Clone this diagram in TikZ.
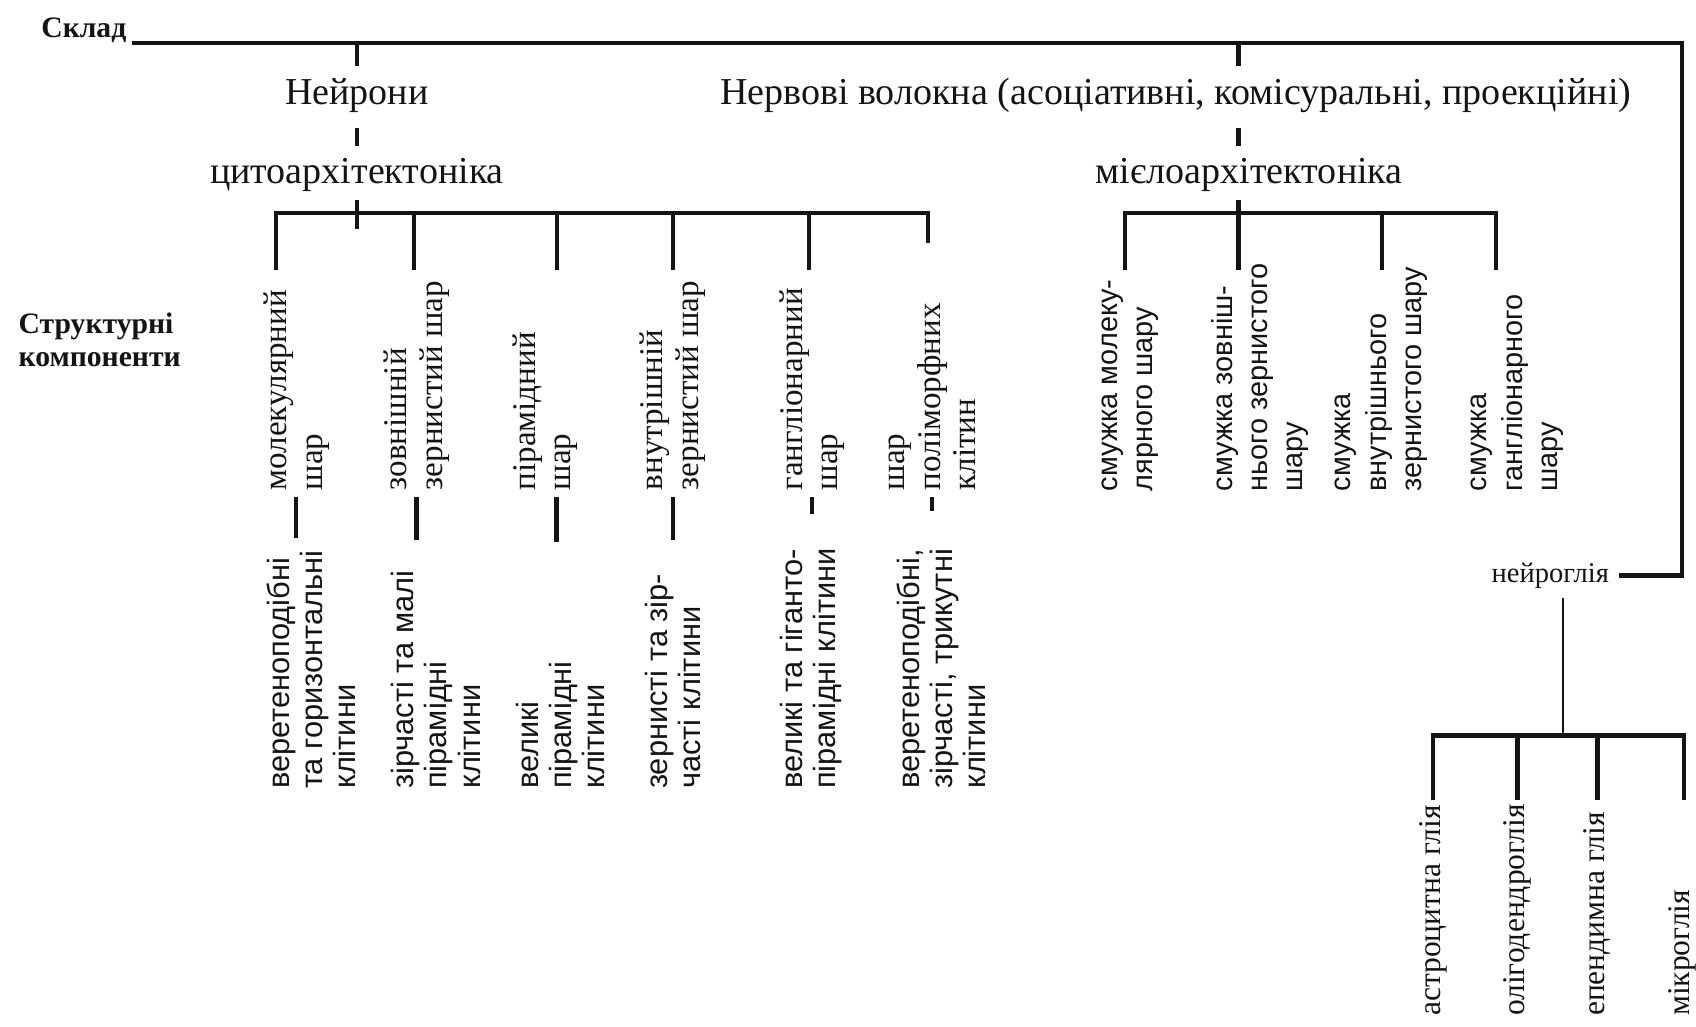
\documentclass[tikz,border=0pt]{standalone}
\usepackage{fontspec}
\setmainfont{Liberation Serif}
\setsansfont{Liberation Sans}
\usepackage{tikz}
\usetikzlibrary{positioning,calc}
\definecolor{Ink}{RGB}{20,20,20}
\tikzset{
  % Bold side caption
  caption/.style={font=\fontsize{7.8}{8.6}\selectfont\bfseries, text=Ink, inner sep=1pt},
  % Top level heading
  heading/.style={font=\fontsize{10}{12}\selectfont, text=Ink, inner sep=2pt},
  % Small heading (glia)
  sheading/.style={font=\fontsize{7.5}{9}\selectfont, text=Ink, inner sep=2.5pt},
  % Rotated layer label
  layer/.style={rotate=90, anchor=west, align=left, inner sep=0pt, text=Ink,
    font=\fontsize{8.7}{9.4}\selectfont},
  % Rotated cell label
  cell/.style={rotate=90, anchor=west, align=left, inner sep=0pt, text=Ink,
    font=\sffamily\fontsize{8.1}{8.7}\selectfont},
  % Rotated band label
  band/.style={rotate=90, anchor=west, align=left, inner sep=0pt, text=Ink,
    font=\sffamily\fontsize{7.6}{9.3}\selectfont},
  % Rotated glia label
  glia/.style={rotate=90, anchor=west, inner sep=0pt, text=Ink,
    font=\fontsize{8.3}{10}\selectfont},
  % Standard connector
  edge/.style={draw=Ink, line width=1.1pt},
  % Thin connector
  tedge/.style={draw=Ink, line width=0.7pt}
}

\begin{document}
\begin{tikzpicture}[x=0.01cm, y=-0.01cm]
  \useasboundingbox (0,0) rectangle (1568,949);

  % Captions
  \node[caption, anchor=west] (sklad) at (34,28) {Склад};
  \node[caption, anchor=west, align=left] (struct) at (13,314) {Структурні\\компоненти};

  % Top level
  \coordinate (topL) at (122,40);
  \coordinate (topR) at (1555,40);
  \coordinate (fx) at (1145,0);
  \coordinate (gx) at (1445,0);
  \node[heading] (neur)  at (330,88)   {Нейрони};
  \node[heading] (cyto)  at (330,162)  {цитоархітектоніка};
  \node[heading] (fib)   at (1087,88)  {Нервові волокна (асоціативні, комісуральні, проекційні)};
  \node[heading] (myelo) at (1155,162) {мієлоархітектоніка};
  \node[sheading, anchor=east] (nglia) at (1497,532) {нейроглія};

  \draw[edge] (topL) -- (topR) |- (nglia.east);
  \draw[edge, shorten >=1pt] (neur.north |- topL) -- (neur.north);
  \draw[edge, shorten <=2pt, shorten >=1pt] (neur.south) -- (cyto.north);
  \draw[edge] (cyto.south) -- ++(0,27);
  \draw[edge, shorten >=1pt] (fx |- topL) -- (fx |- neur.north);
  \draw[edge, shorten <=2pt, shorten >=1pt] (fx |- neur.south) -- (fx |- cyto.north);
  \draw[edge] (fx |- cyto.south) -- ++(0,27);

  % Cytoarchitectonics bracket
  \draw[edge] (255,250) -- (255,197) -- (858,197) -- (858,225);
  \foreach \x in {383,515,622,748}
    \draw[edge] (\x,197) -- (\x,250);

  % Layers
  \node[layer] (l1) at (274,454) {молекулярний\\шар};
  \node[layer] (l2) at (385,454) {зовнішній\\зернистий шар};
  \node[layer] (l3) at (504,454) {пірамідний\\шар};
  \node[layer] (l4) at (622,454) {внутрішній\\зернистий шар};
  \node[layer] (l5) at (751,454) {гангліонарний\\шар};
  \node[layer] (l6) at (862,454) {шар\\поліморфних\\клітин};

  % Cells
  \node[cell] (c1) at (288,730) {веретеноподібні\\та горизонтальні\\клітини};
  \node[cell] (c2) at (403,730) {зірчасті та малі\\пірамідні\\клітини};
  \node[cell] (c3) at (518,730) {великі\\пірамідні\\клітини};
  \node[cell] (c4) at (622,730) {зернисті та зір-\\часті клітини};
  \node[cell] (c5) at (750,730) {великі та гіганто-\\пірамідні клітини};
  \node[cell] (c6) at (870,730) {веретеноподібні,\\зірчасті, трикутні\\клітини};

  \draw[edge] ([yshift=-1.5pt]l1.west) -- ++(0,38);
  \draw[edge] ([yshift=-1.5pt]l2.west) -- ++(0,40);
  \draw[edge] ([yshift=-1.5pt,xshift=3pt]l3.west) -- ++(0,42);
  \draw[edge] ([yshift=-1.5pt]l4.west) -- ++(0,40);
  \draw[edge] ([yshift=-1.5pt]l5.west) -- ++(0,16);
  \draw[edge] ([yshift=-1.5pt]l6.west) -- ++(0,13);

  % Myeloarchitectonics bracket
  \draw[edge] (1040,250) -- (1040,197) -- (1383,197) -- (1383,250);
  \foreach \x in {1145,1278}
    \draw[edge] (\x,197) -- (\x,250);

  % Bands
  \node[band] (m1) at (1045,455) {смужка молеку-\\лярного шару};
  \node[band] (m2) at (1165,455) {смужка зовніш-\\нього зернистого\\шару};
  \node[band] (m3) at (1277,455) {смужка\\внутрішнього\\зернистого шару};
  \node[band] (m4) at (1403,455) {смужка\\гангліонарного\\шару};

  % Neuroglia
  \coordinate (gb) at (0,680);
  \draw[tedge] (gx |- nglia.south) -- (gx |- gb);
  \draw[edge] (1325,740) -- (1325,680) -- (1557,680) -- (1557,740);
  \foreach \x in {1403,1477}
    \draw[edge] (\x,680) -- (\x,740);
  \node[glia] (g1) at (1325,940) {астроцитна глія};
  \node[glia] (g2) at (1403,940) {олігодендроглія};
  \node[glia] (g3) at (1477,940) {епендимна глія};
  \node[glia] (g4) at (1555,940) {мікроглія};
\end{tikzpicture}
\end{document}
